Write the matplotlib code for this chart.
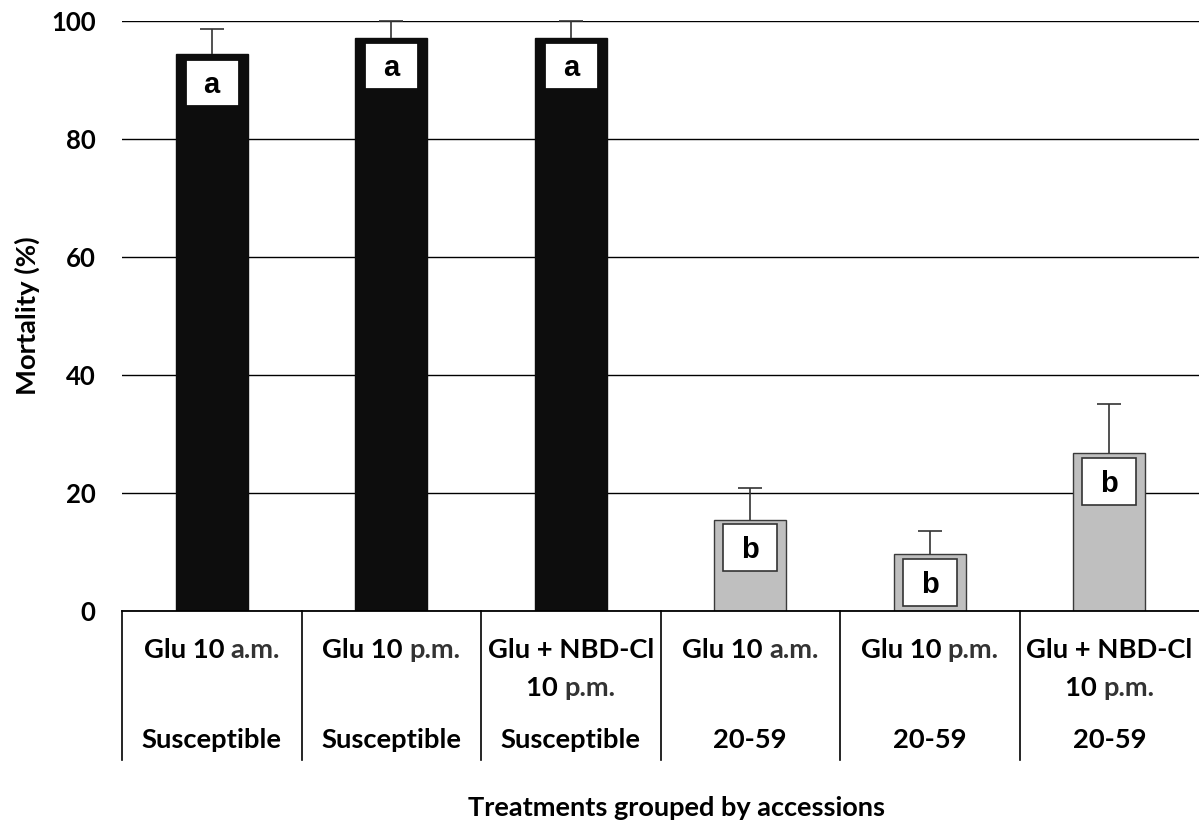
import matplotlib
matplotlib.use("Agg")
import matplotlib.pyplot as plt
from matplotlib.patches import Rectangle
from matplotlib.transforms import blended_transform_factory
import numpy as np

# Mortality data
# label pieces: list of lines, each line a list of (text, is_time)
treatment_lines = [
    [[("Glu 10 ", False), ("a.m.", True)]],
    [[("Glu 10 ", False), ("p.m.", True)]],
    [[("Glu + NBD-Cl", False)], [("10 ", False), ("p.m.", True)]],
    [[("Glu 10 ", False), ("a.m.", True)]],
    [[("Glu 10 ", False), ("p.m.", True)]],
    [[("Glu + NBD-Cl", False)], [("10 ", False), ("p.m.", True)]],
]
accessions = ["Susceptible", "Susceptible", "Susceptible", "20-59", "20-59", "20-59"]
mortality = [94.4, 97.2, 97.2, 15.5, 9.6, 26.8]
mortality_err = [4.2, 2.8, 2.8, 5.4, 4.0, 8.3]
groups = ["a", "a", "a", "b", "b", "b"]
yticks = [0, 20, 40, 60, 80, 100]

MAIN_FONT = "Lato"
LETTER_FONT = "Liberation Sans"
FS_TICK = 18.5
FS = 19.7

W, H = 1199, 825
fig = plt.figure(figsize=(W / 100, H / 100), dpi=100)
ax = fig.add_axes([122 / W, (H - 611) / H, 1 - 122 / W, 590 / H])

x = np.arange(len(mortality))
colors = ["#0d0d0d" if acc == "Susceptible" else "#bfbfbf" for acc in accessions]
edges = ["#0d0d0d" if acc == "Susceptible" else "#3a3a3a" for acc in accessions]

ax.set_axisbelow(True)
ax.yaxis.grid(True, color="black", linewidth=1.0)
ax.bar(x, mortality, width=0.4, color=colors, edgecolor=edges, linewidth=1.0, zorder=2)
_, caps, _ = ax.errorbar(x, mortality, yerr=[np.zeros(len(mortality)), mortality_err],
                         fmt="none", ecolor="#333333", elinewidth=1.2, capsize=8.5,
                         capthick=1.2, zorder=3, clip_on=False)
# only the upper cap is shown (one-sided error bars)
for cap in caps:
    if np.allclose(cap.get_ydata(), mortality):
        cap.set_visible(False)

# group letters in boxes near the top of each bar
box_w, box_h, box_gap = 0.30, 8.0, 0.8
for xi, val, g, acc in zip(x, mortality, groups, accessions):
    top = val - box_gap
    dark = acc == "Susceptible"
    ax.add_patch(Rectangle((xi - box_w / 2, top - box_h), box_w, box_h,
                           facecolor="white",
                           edgecolor="#0d0d0d" if dark else "#333333",
                           linewidth=2.0 if dark else 1.2, zorder=4))
    ax.text(xi, top - box_h / 2 - 0.4, g, ha="center", va="center",
            fontsize=21, fontweight="bold", family=LETTER_FONT, zorder=5)

ax.set_xlim(-0.5, len(mortality) - 0.5)
ax.set_ylim(0, 100)
ax.set_yticks(yticks)
ax.set_yticklabels([str(v) for v in yticks], fontsize=FS_TICK, fontweight="bold",
                   family=MAIN_FONT)
ax.tick_params(axis="y", length=0, pad=19)
ax.set_xticks([])
for side in ["left", "right", "top"]:
    ax.spines[side].set_visible(False)
ax.spines["bottom"].set_linewidth(1.3)
ax.spines["bottom"].set_color("black")

ax.set_ylabel("Mortality (%)", fontsize=FS, fontweight="bold", family=MAIN_FONT)
ax.yaxis.set_label_coords(-(122 - 27) / 1077, 0.5)
ax.yaxis.label.set_va("center")

# category table under the axis
trans = blended_transform_factory(ax.transData, ax.transAxes)
div_bottom = -(760 - 611) / 590
for xi in np.arange(-0.5, len(mortality) - 0.5, 1.0):
    ax.plot([xi, xi], [0, div_bottom], color="black", linewidth=1.2,
            transform=trans, clip_on=False)

renderer = fig.canvas.get_renderer()


def fy(py):
    return (H - py) / H


def draw_pieces(xc_px, y_px, pieces):
    texts = []
    for s, is_time in pieces:
        t = fig.text(0, fy(y_px), s, fontsize=FS, fontweight="bold",
                     family=MAIN_FONT, color="#333333" if is_time else "black",
                     ha="left", va="center")
        texts.append(t)
    widths = [t.get_window_extent(renderer).width for t in texts]
    left = xc_px - sum(widths) / 2
    for t, w in zip(texts, widths):
        t.set_x(left / W)
        left += w


line_y = [650, 688]
for xi, lines, acc in zip(x, treatment_lines, accessions):
    xc_px = ax.transData.transform((xi, 0))[0]
    for li, pieces in enumerate(lines):
        draw_pieces(xc_px, line_y[li], pieces)
    fig.text(xc_px / W, fy(740), acc, fontsize=FS, fontweight="bold",
             family=MAIN_FONT, ha="center", va="center")

fig.text(676 / W, fy(808), "Treatments grouped by accessions", fontsize=19.5,
         fontweight="bold", family=MAIN_FONT, ha="center", va="center")

fig.savefig("out.png", dpi=100)
